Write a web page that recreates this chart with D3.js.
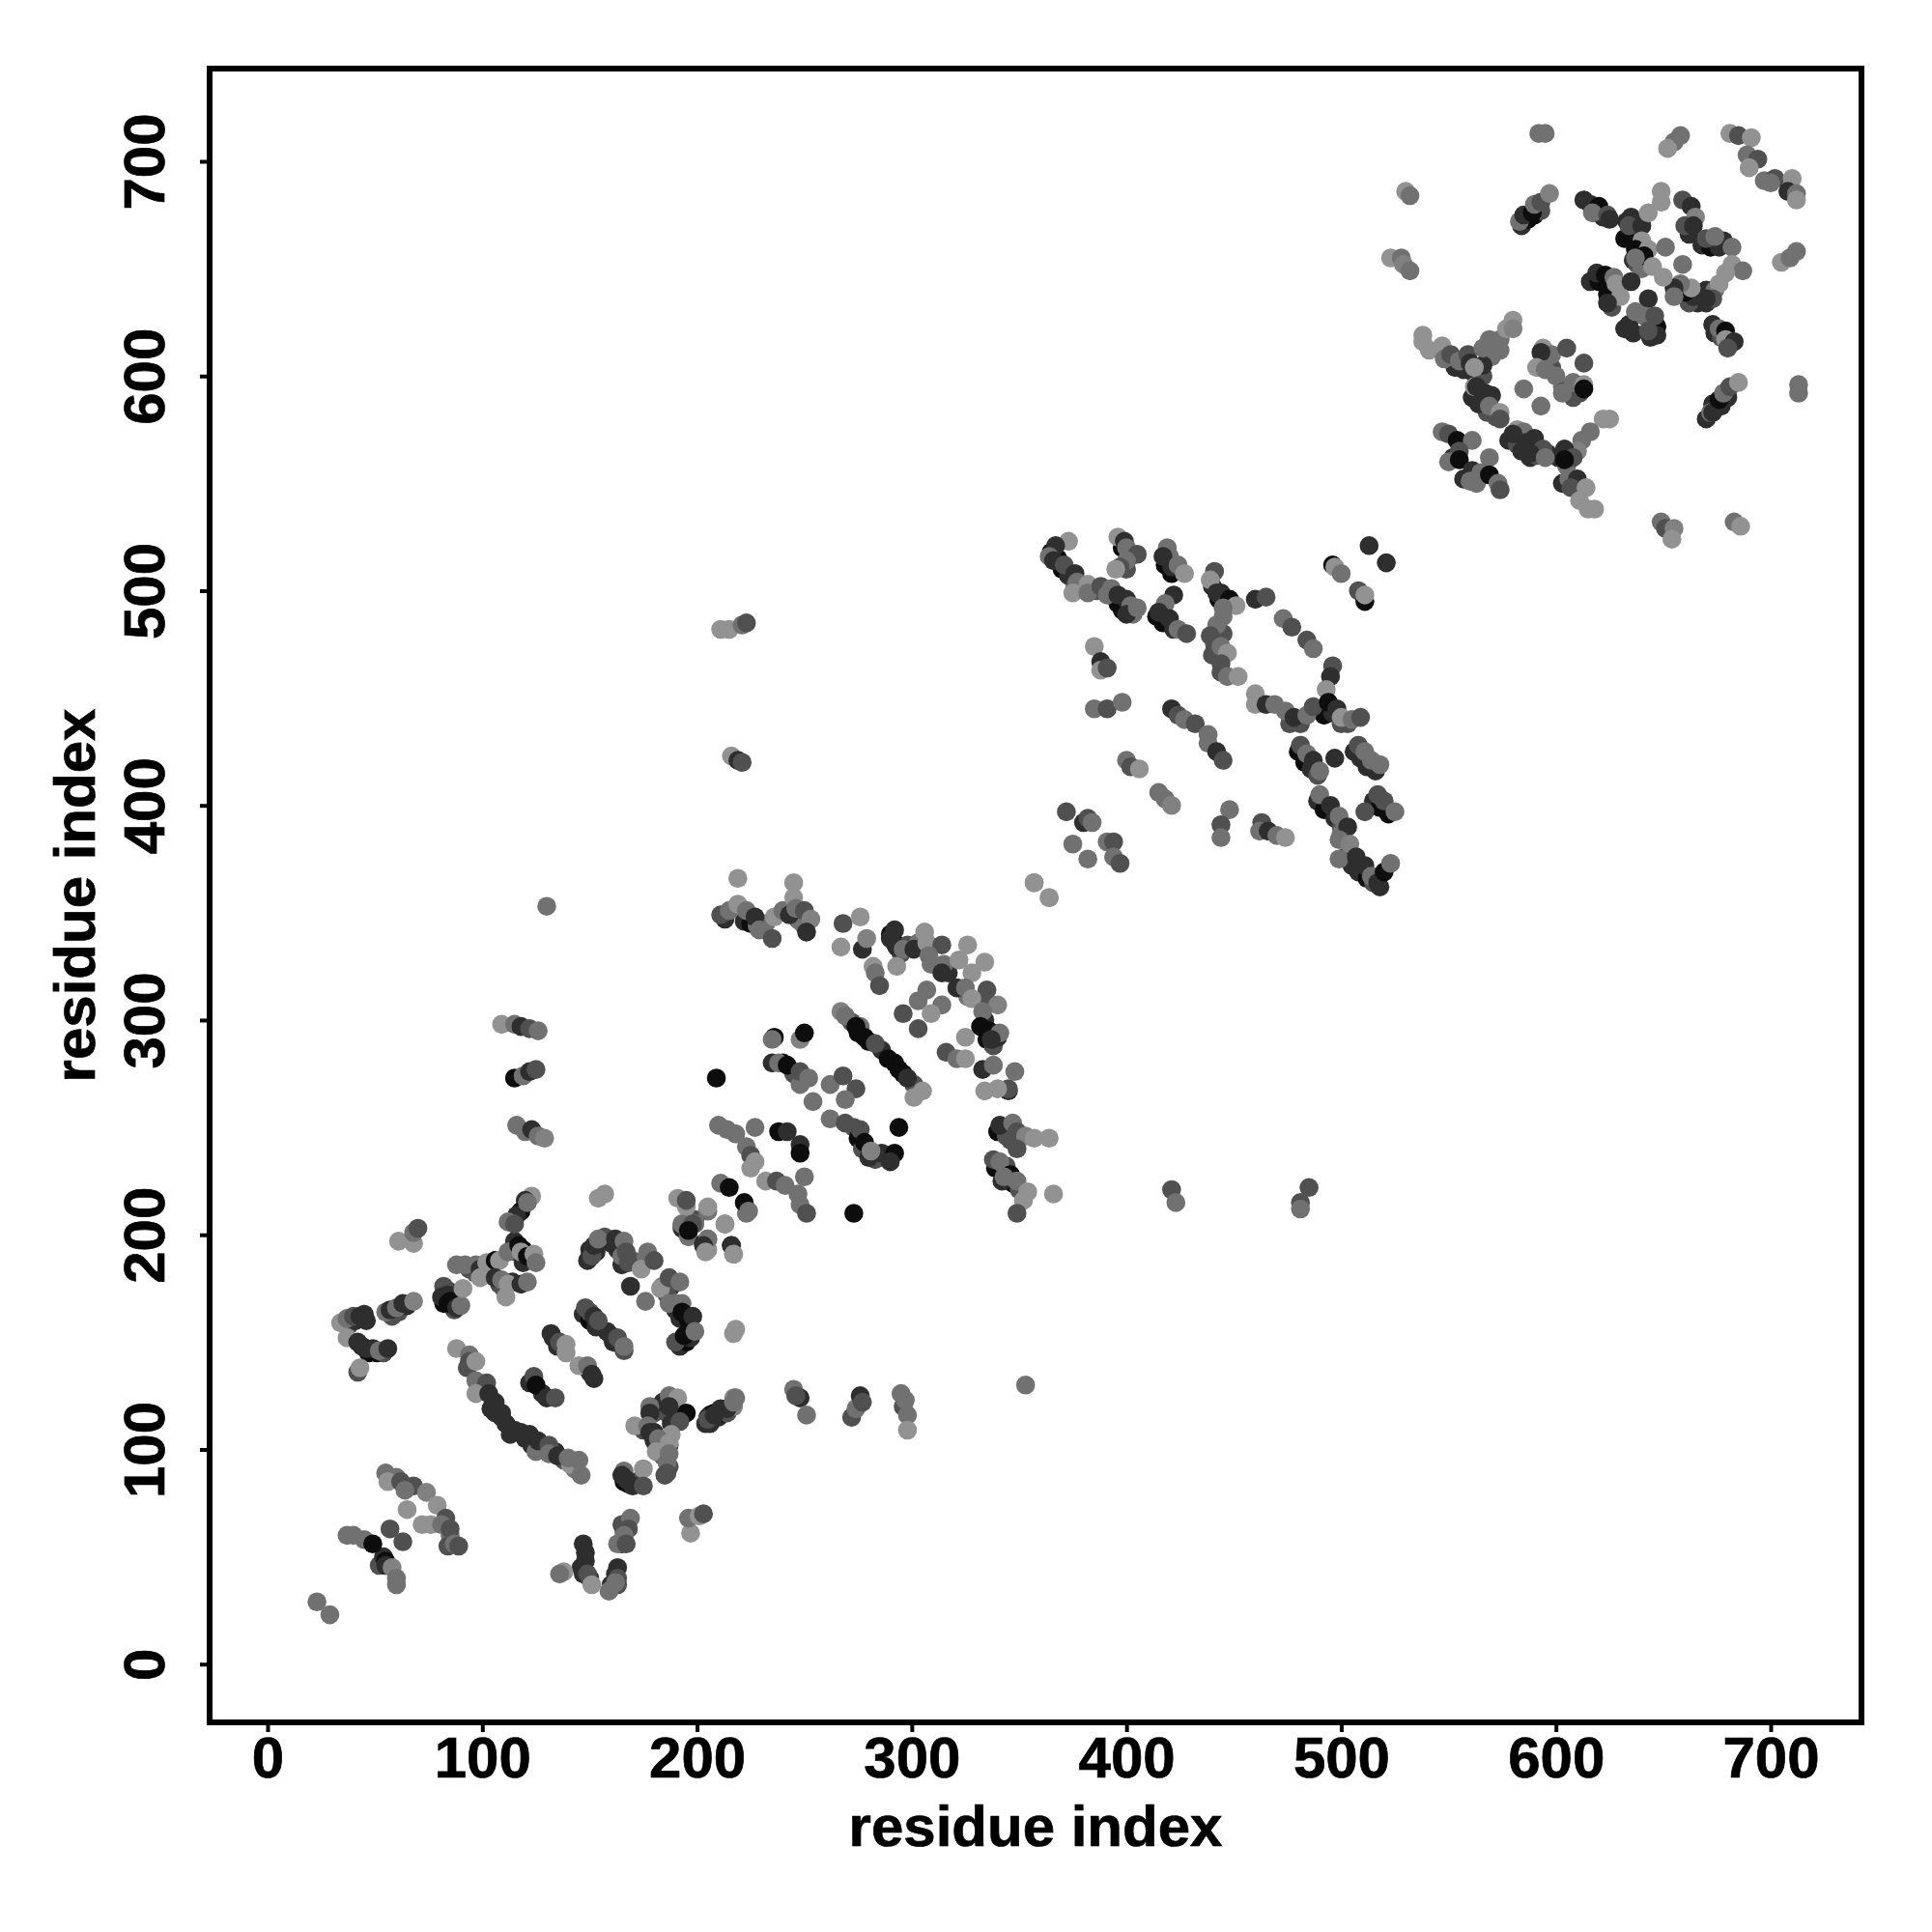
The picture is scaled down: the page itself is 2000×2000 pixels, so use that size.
<!DOCTYPE html>
<html><head><meta charset="utf-8"><script src="https://cdn.jsdelivr.net/npm/d3@7"></script>
<style>html,body{margin:0;background:#fff}svg{display:block}</style></head><body><div id="c"></div>
<script>
const tickValues=[0,100,200,300,400,500,600,700];
const axisTitle="residue index";
// each row: residue x, residue y, score (1 weak .. 9 strong)
const underA=[[38,158,5],[41,160,7],[46,160,7],[58,162,5],[61,164,5],[65,167,7],[44,148,7],[47,145,9],[51,145,9],[54,145,5],[84,174,7],[82,168,9],[86,171,9],[87,165,5],[94,184,5],[97,182,5],[101,184,5],[104,185,9],[104,181,7],[108,177,5],[110,175,5],[114,178,7],[116,192,7],[115,197,7],[119,193,9],[119,187,7],[123,188,7]];
const underB=[[93,138,5],[99,128,7],[101,127,7],[104,119,7],[106,117,7],[111,112,7],[113,107,7],[120,105,7],[123,102,7],[129,100,5],[134,99,7],[138,95,5],[143,91,3],[122,131,7],[128,126,7],[132,154,7],[135,148,7],[150,136,7],[147,163,7],[150,160,9],[153,157,7],[158,155,7],[161,150,7],[164,149,7],[166,146,5]];
const underC=[[149,188,7],[150,193,7],[153,192,7],[157,199,5],[160,196,7],[163,193,7],[165,186,7],[170,188,3],[173,187,5],[176,189,3],[184,176,3],[188,176,7],[186,172,5],[190,165,7],[192,161,7],[196,160,9],[192,148,7],[195,150,9],[197,152,7],[199,207,5],[193,203,7],[196,199,3]];
const underD=[[180,117,5],[184,122,7],[187,116,5],[188,112,7],[175,109,5],[180,104,7],[183,101,3],[184,97,5],[187,92,5],[185,88,5],[204,112,7],[206,116,9],[210,115,7],[212,117,9],[214,117,5],[166,85,9],[168,84,9],[172,85,5],[165,65,5],[166,62,5],[165,56,7],[162,42,7],[163,37,5],[148,52,7],[146,45,7],[147,42,7],[150,40,7],[52,46,5],[54,50,7],[60,87,3],[85,60,3],[84,55,5]];
const underF=[[213,347,7],[222,346,7],[225,345,9],[228,344,3],[232,345,3],[247,347,7],[250,344,9],[248,346,3],[290,340,9],[292,336,9],[295,331,5],[298,335,5],[303,336,3],[309,326,3],[317,322,7],[326,311,3],[334,310,5],[334,300,7],[336,295,9],[335,291,9],[338,288,5],[340,292,7],[272,299,5],[275,294,9],[280,290,9],[286,286,7],[292,280,9],[296,275,9],[301,270,5],[240,280,9],[245,275,5],[248,270,3],[273,250,5],[275,245,9],[277,240,5],[283,235,5],[286,238,7]];
const underH=[[340,248,9],[344,246,5],[346,244,5],[344,232,5],[347,224,9],[350,221,5],[339,231,9],[342,225,7]];
const underI=[[365,518,9],[368,515,9],[370,510,9],[373,507,7],[376,502,5],[386,500,5],[396,494,9],[398,491,9],[403,489,3],[398,520,9],[402,516,5],[400,510,5],[418,512,9],[421,508,9],[414,488,9],[417,485,9],[422,482,7],[440,502,7],[443,496,9],[446,493,7],[445,480,5],[441,475,5],[440,470,5],[444,462,5],[490,444,9],[492,442,9],[496,443,7],[500,438,5],[503,438,5],[481,438,5],[476,438,5]];
const underJ=[[480,425,9],[483,420,9],[486,417,7],[489,414,5],[506,425,7],[509,422,7],[512,418,7],[516,416,7],[489,402,7],[492,398,9],[497,394,7],[500,390,5],[515,402,7],[518,399,9],[522,396,9],[502,376,7],[505,372,7],[508,369,7],[512,366,9],[515,364,5],[518,362,7],[500,387,3]];
const underK=[[584,670,7],[587,673,9],[590,675,9],[593,677,5],[616,680,7],[619,676,7],[622,674,7],[633,672,7],[637,668,7],[632,664,9],[636,654,7],[638,652,5],[640,650,3],[662,666,7],[668,661,7],[672,660,9],[676,660,7],[670,634,7],[666,634,7],[662,634,5],[670,640,7],[674,640,3],[616,644,7],[620,644,9],[624,638,9],[626,632,5],[632,622,7],[636,620,7],[644,618,7],[674,620,7],[677,618,5]];
const underL=[[553,604,7],[557,603,7],[562,601,7],[566,600,5],[570,609,3],[574,612,3],[561,590,7],[565,587,7],[568,583,5],[572,581,5],[598,604,5],[600,600,3],[608,590,5],[611,592,5],[578,570,7],[582,568,5],[584,565,7],[588,562,7],[591,563,5],[596,564,7],[601,562,7],[557,552,7],[563,550,3],[552,562,7],[605,558,3],[670,580,7],[673,585,5],[677,586,7],[680,590,7],[603,550,7]];
const regionA=[[61,197,1],[68,196,1],[68,201,3],[70,203,5],
[34,159,1],[37,161,3],[40,162,5],[43,162,7],[45,163,7],[55,164,3],[57,165,7],[60,166,3],[63,168,7],[68,169,2],
[37,152,1],[42,150,7],[46,147,7],[49,147,7],[52,146,3],[56,147,7],[42,136,5],[43,138,1],
[82,176,5],[81,171,7],[84,172,7],[84,168,9],[85,169,9],[88,166,7],[90,167,3],[91,175,1],
[88,186,3],[92,186,3],[97,186,3],[99,184,7],[99,180,1],[102,187,1],[106,188,9],[108,188,1],[112,192,3],[117,195,9],[118,192,1],[121,190,9],[124,191,1],[125,187,3],
[106,180,7],[109,179,3],[112,177,1],[118,177,7],[121,178,3],[111,171,1]];
const regionB=[[88,147,1],[94,144,3],[94,141,5],[97,141,1],[97,132,3],[102,131,5],[97,126,1],[103,126,7],[106,122,7],[109,117,7],[109,115,7],[115,109,7],[118,108,7],[122,107,7],[125,99,3],[126,104,7],[131,102,5],[131,98,3],[135,97,7],[141,93,1],[140,96,3],[145,95,3],[146,88,3],
[124,134,5],[125,130,9],[130,124,7],[134,124,5],[133,152,7],[136,150,5],[139,149,1],[139,145,1],[145,139,1],[149,139,3],[151,135,7],[152,133,7],
[148,166,5],[150,164,5],[152,162,7],[154,160,5],[160,153,7],[163,152,5],[166,148,3]];
const regionC=[[151,190,5],[152,195,7],[154,198,3],[162,198,7],[166,197,3],[165,190,3],[167,192,5],[168,187,5],[174,184,1],[177,192,3],[180,188,5],
[169,176,7],[176,169,3],[183,175,1],[187,180,5],[192,178,3],[187,168,3],[190,168,3],[193,168,3],[193,164,9],[198,162,7],[190,150,5],[194,153,9],[199,155,3],[218,156,1],[217,154,1],
[196,204,7],[193,205,1],[199,205,3],[205,211,3],[213,205,3],[203,196,7],[205,198,3],[205,193,1],[216,195,7],[217,191,1],[223,210,3],[195,213,1]];
const regionD=[[178,120,3],[178,117,7],[187,125,3],[191,124,1],[195,117,9],[187,120,7],[192,113,5],[171,111,1],[177,111,3],[180,108,7],[178,108,7],[188,107,1],[182,105,3],[187,102,9],[187,103,1],[181,99,1],[187,98,3],[186,94,3],[186,89,5],
[205,115,7],[208,117,9],[211,119,7],[206,112,7],[217,120,2],[217,124,1],[205,114,5],[208,116,7],[214,119,7],[217,122,3],[218,124,3],
[166,90,3],[175,91,1],[165,88,7],[167,86,7],[170,83,7],[175,83,5],
[169,68,3],[168,63,5],[166,60,3],[163,56,3],[167,56,5],[163,45,7],[163,40,5],[160,37,7],[159,34,3],[162,38,3],
[147,56,7],[148,48,7],[149,42,5],[151,37,1],[138,43,1],[136,42,3],[197,61,1],[196,68,3],[201,69,1],[203,70,5],
[23,29,3],[29,23,3],[37,60,3],[40,60,3],[45,58,3],[49,56,9],[55,48,9],[55,46,7],[58,45,2],[60,40,3],[60,37,3],[57,63,5],[63,57,5],
[55,89,3],[56,85,1],[62,85,5],[68,83,5],[64,81,3],[74,80,2],[65,72,1],[79,74,1],[72,65,1],[76,65,1],[83,68,5],[81,65,3],[85,63,5],[87,56,3],[89,55,5]];
const regionE=[[245,128,3],[248,124,7],[246,125,5],[251,116,3],[272,115,5],[274,119,3],[276,125,7],[277,122,5],[295,126,3],[296,120,5],[298,116,3],[298,109,1],[297,123,3],[353,130,3],
[109,298,1],[115,298,3],[118,297,7],[122,296,5],[126,295,3],[115,273,9],[119,274,3],[122,276,7],[125,277,5],[116,251,3],[120,248,3],[123,249,7],[126,246,3],[129,245,2],
[123,218,1],[120,216,7],[118,211,9],[116,209,7],[112,206,3],[115,205,5],[121,215,3],[154,217,1],[157,219,1],[130,353,3],[216,423,1],[219,421,7],[221,420,5],[211,482,1],[215,482,1],[221,484,3],[223,485,5],
[421,221,5],[423,215,3],[485,222,5],[481,215,5],[481,212,3]];
const regionF=[[209,273,9],[219,366,1],[211,349,5],[215,351,3],[219,354,1],[223,351,3],[227,348,7],[229,342,3],[235,338,5],[236,348,1],[240,351,3],[243,349,7],[245,364,1],[245,357,1],[246,352,3],[250,351,5],[253,347,2],[251,341,7],
[268,345,5],[276,348,1],[267,334,1],[277,333,7],[279,338,2],[282,325,1],[283,322,3],[285,316,5],[293,325,1],
[292,342,7],[290,338,7],[293,334,7],[296,333,3],[301,333,7],[306,341,1],[307,336,1],[314,335,5],[308,330,3],[315,326,3],[314,322,7],[322,328,1],[326,335,1],[334,327,1],[328,322,1],
[321,315,7],[325,315,3],[335,314,5],[307,314,3],[303,309,3],[314,307,3],[296,303,5],[303,296,5],[309,303,1],[328,310,1],[340,307,2],[333,304,3],[332,297,9],[341,294,3],[337,291,7],[325,292,1],
[316,285,5],[321,282,3],[325,282,1],[333,277,7],[338,279,3],[348,276,3],[334,267,1],[345,267,7],[345,268,5],[340,268,1]];
const regionG=[[267,304,2],[269,302,3],[276,297,3],[274,297,9],[278,292,9],[283,289,5],[289,282,9],[294,277,9],[298,273,7],[305,267,1],[301,264,1],
[236,292,9],[235,291,3],[248,291,2],[250,294,9],[235,280,7],[238,280,3],[242,279,9],[248,276,5],[252,273,3],[254,262,3],[262,270,3],[268,274,5],[274,268,5],[269,263,3],
[262,254,3],[269,252,5],[276,249,5],[278,243,9],[280,236,7],[281,239,2],[294,250,9],[292,238,9],[290,234,7],
[210,251,3],[214,249,3],[218,247,3],[227,250,3],[238,248,9],[242,248,7],[248,242,7],[248,238,9],[223,241,3],[225,237,5],[227,234,1],[225,231,1],
[232,225,1],[237,225,5],[241,223,3],[250,227,3],[247,219,3],[248,214,3],[251,210,5],[273,210,9],
[211,224,3],[215,222,9],[222,215,9],[224,211,3],[191,217,1],[195,216,5],[205,213,1],[213,205,1],[193,205,3],[198,205,5],[196,202,9],[205,198,3],[203,195,7],[204,192,1],[216,195,7],[217,191,1]];
const regionH=[[357,364,1],[364,357,1],[341,251,7],[347,252,3],[349,248,5],[353,246,2],[357,245,1],[364,245,1],[338,235,5],[341,234,3],[349,240,5],[346,228,9],[343,227,3],[349,225,3],[354,220,1],[352,216,1],[349,210,5],[366,219,1]];
const regionI=[[373,523,1],[367,521,7],[364,516,3],[366,514,7],[371,512,5],[376,508,7],[377,504,3],[375,499,1],[382,503,1],[382,499,3],[388,502,5],[393,501,3],[391,498,3],[396,498,7],[400,496,7],[402,493,3],[400,489,7],[405,492,3],
[396,525,1],[399,523,7],[400,520,3],[405,517,5],[400,514,3],[397,511,5],[395,510,1],[419,520,3],[420,516,3],[417,516,7],[421,511,7],[424,512,3],[427,508,1],[422,498,7],[418,494,3],[415,490,7],[420,487,7],[424,482,3],[428,480,5],
[441,509,5],[439,505,1],[444,499,7],[442,499,7],[448,496,9],[451,493,1],[445,492,3],[460,496,7],[465,497,5],[445,488,3],[442,484,3],[439,479,5],[444,474,3],[447,471,1],[444,466,5],[447,460,3],[452,460,1],[460,452,1],[460,447,1],
[473,487,3],[477,483,5],[484,477,5],[487,473,3],[496,465,5],[495,460,7],[493,454,1],[465,447,7],[469,447,3],[474,444,3],[478,441,7],[484,442,3],[487,446,5],[494,448,9],[498,445,7],[500,441,1],[505,440,3],[509,441,5],
[513,521,7],[521,513,7],[496,512,9],[497,511,1],[500,508,3],[508,500,5],[511,495,9],[511,498,1]];
const regionJ=[[385,474,1],[388,467,7],[388,463,1],[391,464,5],[385,445,3],[391,445,5],[398,448,3],[421,445,7],[424,442,5],[427,440,3],[432,438,5],[438,433,3],[438,429,3],[442,425,7],[445,421,5],
[400,421,3],[402,418,5],[406,417,1],[415,406,3],[418,403,3],[421,400,2],[372,397,5],[380,392,7],[382,394,5],[384,392,3],[375,382,3],[382,375,3],[391,383,3],[394,383,5],[394,376,3],[397,373,5],[357,364,1],[364,357,1],
[448,398,3],[444,391,5],[444,385,3],[463,392,5],[462,388,3],[466,388,7],[470,386,3],[474,385,1],
[481,428,5],[484,424,3],[487,421,7],[490,416,3],[497,422,7],[508,428,5],[511,425,3],[514,421,3],[518,419,3],
[490,405,3],[495,400,7],[499,395,3],[503,390,7],[511,397,5],[517,405,5],[520,402,5],[525,397,3],[499,384,3],[504,382,2],[499,375,3],[507,376,7],[511,372,7],[514,367,3],[517,364,7],[520,369,9],[523,373,3]];
const regionK=[[592,713,3],[595,713,3],[530,686,1],[532,684,3],[523,655,1],[528,655,3],[529,652,2],[532,649,3],
[583,672,3],[585,675,7],[589,676,9],[590,680,3],[593,681,5],[597,685,2],[613,682,7],[620,679,9],[617,676,3],[624,675,5],[625,673,7],
[635,674,7],[634,670,5],[640,670,7],[643,676,1],[649,686,1],[649,681,1],[659,682,5],[663,679,7],[665,674,2],[660,670,5],[664,670,7],
[640,663,1],[637,659,9],[643,659,1],[641,656,9],[637,655,3],[645,651,1],[651,660,3],[659,652,3],
[670,664,5],[678,663,7],[674,665,3],[682,660,3],[682,652,1],[687,649,3],[679,648,1],[676,643,1],[673,636,5],[670,636,7],[664,637,7],[660,639,9],[663,641,1],[658,643,3],[655,641,7],[650,646,1],[655,637,3],
[619,648,7],[623,647,9],[627,646,3],[628,643,1],[630,637,1],[624,634,7],[635,644,7],[643,636,7],
[634,624,7],[637,630,3],[641,628,3],[647,623,9],[647,619,7],[643,621,5],[646,628,5],[673,624,7],[676,622,3],[679,621,9],[679,617,1],[683,616,7],[680,613,5],
[655,709,3],[652,706,1],[658,712,3],[681,713,1],[685,712,5],[691,711,1],[689,703,3],[694,701,5],[690,697,1],[697,691,3],[702,692,5],[700,690,3],[710,692,1],[708,686,7],[712,685,3],[712,682,1],[705,653,1],[709,655,3],[712,658,3],[713,596,3],[713,592,3]];
const regionL=[[538,619,1],[538,616,1],[541,612,1],[547,614,1],[548,608,3],[551,610,5],[555,607,3],[559,610,5],[560,606,7],[566,605,7],[562,604,1],[566,613,3],[569,617,3],[574,617,3],[577,622,1],[580,626,1],[580,622,2],
[562,595,1],[563,595,7],[567,592,7],[570,591,7],[564,587,7],[569,586,3],[574,583,1],[574,580,5],[585,594,3],[593,586,3],
[594,613,1],[598,610,3],[605,613,5],[593,611,7],[591,604,1],[595,603,3],[613,606,5],[603,595,3],[604,593,5],[608,597,3],[613,596,1],[613,594,9],[603,592,3],
[582,575,1],[585,574,3],[580,573,7],[586,569,7],[590,571,7],[594,566,5],[588,564,7],[595,562,3],
[547,574,3],[550,573,5],[554,570,9],[561,570,3],[555,565,5],[550,560,3],[555,561,9],[569,562,3],[561,556,7],[560,551,3],[565,555,3],[569,554,9],[573,550,3],[574,547,5],
[622,580,1],[625,580,1],[616,574,3],[612,570,3],[610,565,2],[604,566,7],[608,562,5],[604,561,9],[606,552,3],[610,552,7],[607,548,5],[614,548,1],[611,542,1],[615,538,1],[618,538,1],
[673,587,7],[672,583,3],[673,583,7],[676,589,9],[678,592,3],[681,595,5],[685,597,1],[649,532,3],[651,529,5],[655,529,2],[654,524,1],[683,532,3],[686,530,1]];
const regions=[underA,underB,underC,underD,underF,underH,underI,underJ,underK,underL,regionA,regionB,regionC,regionD,regionE,regionF,regionG,regionH,regionI,regionJ,regionK,regionL];

const W=2000,H=2000,frame={l:217,r:1927,t:71,b:1783};
const svg=d3.select("#c").append("svg").attr("width",W).attr("height",H).style("font-family","'Liberation Sans',Arial,sans-serif").style("font-weight","700");
const x=d3.scaleLinear().domain([0,700]).range([277,1833]);
const y=d3.scaleLinear().domain([0,700]).range([1722.7,167]);
const shade=d3.scaleLinear().domain([1,9]).range(["#929292","#0d0d0d"]);

svg.append("g").selectAll("g").data(regions).join("g").selectAll("circle").data(d=>d).join("circle")
 .attr("cx",d=>x(d[0])).attr("cy",d=>y(d[1])).attr("r",9.8).attr("fill",d=>shade(d[2]));

const xa=svg.append("g").attr("transform",`translate(0,${frame.b})`).call(d3.axisBottom(x).tickValues(tickValues).tickSize(10).tickFormat(d3.format("d")));
const ya=svg.append("g").attr("transform",`translate(${frame.l},0)`).call(d3.axisLeft(y).tickValues(tickValues).tickSize(10).tickFormat(d3.format("d")));
[xa,ya].forEach(a=>{a.select(".domain").remove();a.selectAll("line").attr("stroke","#000").attr("stroke-width",4);
 a.selectAll("text").attr("font-size",60).attr("fill","#000").attr("stroke","#000").attr("stroke-width",0.7);a.attr("font-family",null).attr("font-size",null);});
xa.selectAll("text").attr("y",57).attr("dy",0);
ya.selectAll("text").attr("x",null).attr("dy",0).attr("text-anchor","middle").attr("transform","translate(-47,0) rotate(-90)");
svg.append("rect").attr("x",frame.l).attr("y",frame.t).attr("width",frame.r-frame.l).attr("height",frame.b-frame.t).attr("fill","none").attr("stroke","#000").attr("stroke-width",6);
svg.append("text").attr("x",1072).attr("y",1911).attr("text-anchor","middle").attr("font-size",60).attr("stroke","#000").attr("stroke-width",0.7).text(axisTitle);
svg.append("text").attr("transform","translate(98,927) rotate(-90)").attr("text-anchor","middle").attr("font-size",60).attr("stroke","#000").attr("stroke-width",0.7).text(axisTitle);
</script></body></html>
